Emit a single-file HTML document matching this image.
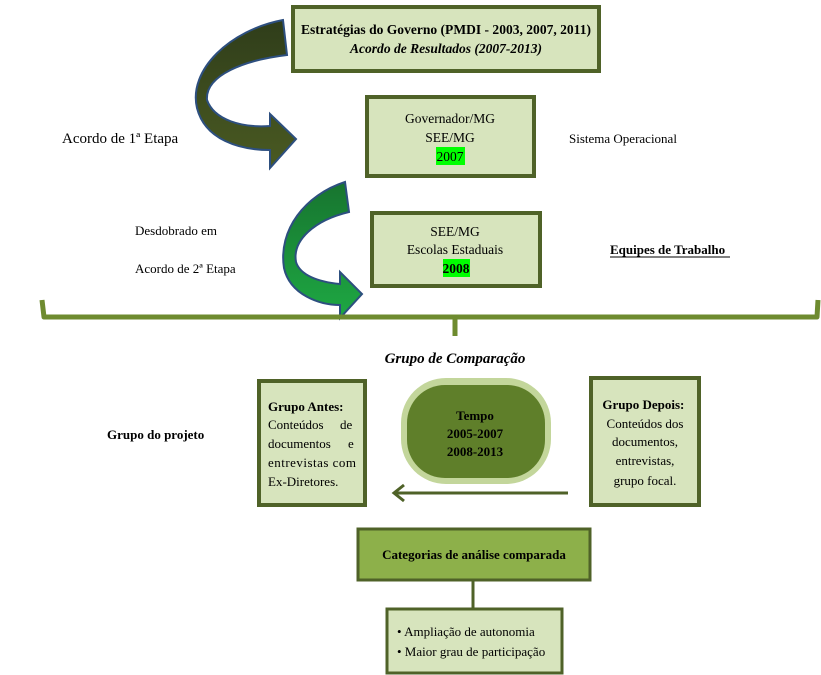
<!DOCTYPE html>
<html><head><meta charset="utf-8"><style>
html,body{margin:0;padding:0;background:#fff;}
svg{display:block;font-family:"Liberation Serif",serif;}
</style></head><body>
<svg width="821" height="675" viewBox="0 0 821 675" xmlns="http://www.w3.org/2000/svg">
<defs>
<linearGradient id="g1" x1="0" y1="0" x2="0" y2="1"><stop offset="0" stop-color="#2f3d1a"/><stop offset="1" stop-color="#4a5a22"/></linearGradient>
<linearGradient id="g2" x1="0" y1="0" x2="0" y2="1"><stop offset="0" stop-color="#17742f"/><stop offset="1" stop-color="#1ea843"/></linearGradient>
</defs>
<!-- curved arrow 1 -->
<path d="M283,20 C230,30 188,70 197,108 C205,140 240,150 270,150 L270,168 L296,139 L270,114 L270,126 C242,128 214,120 207,100 C205,75 245,60 287,55 Z" fill="url(#g1)" stroke="#2d4f7f" stroke-width="2"/>
<!-- curved arrow 2 -->
<path d="M345,182 C305,195 278,230 284,268 C290,295 320,305 340,305 L340,318 L362,294 L340,272 L340,284 C318,282 300,275 296,262 C292,240 315,220 349,212 Z" fill="url(#g2)" stroke="#2d4f7f" stroke-width="2"/>
<!-- boxes -->
<rect x="293" y="7" width="306" height="64" fill="#d7e4bd" stroke="#4f6228" stroke-width="4"/>
<text x="446" y="34" text-anchor="middle" font-size="13.5" font-weight="bold" textLength="290" lengthAdjust="spacingAndGlyphs">Estratégias do Governo (PMDI - 2003, 2007, 2011)</text>
<text x="446" y="53" text-anchor="middle" font-size="13.5" font-weight="bold" font-style="italic" textLength="192" lengthAdjust="spacingAndGlyphs">Acordo de Resultados (2007-2013)</text>
<rect x="367" y="97" width="167" height="79" fill="#d7e4bd" stroke="#4f6228" stroke-width="4"/>
<text x="450" y="123" text-anchor="middle" font-size="13.5">Governador/MG</text>
<text x="450" y="142" text-anchor="middle" font-size="13.5">SEE/MG</text>
<rect x="436" y="147" width="29" height="18" fill="#00ff00"/>
<text x="450" y="161" text-anchor="middle" font-size="13.5">2007</text>
<rect x="372" y="213" width="168" height="73" fill="#d7e4bd" stroke="#4f6228" stroke-width="4"/>
<text x="455" y="236" text-anchor="middle" font-size="13.5">SEE/MG</text>
<text x="455" y="254" text-anchor="middle" font-size="13.5">Escolas Estaduais</text>
<rect x="443" y="259" width="27" height="18" fill="#00ff00"/>
<text x="456" y="273" text-anchor="middle" font-size="13.5" font-weight="bold">2008</text>
<!-- side labels -->
<text x="62" y="143" font-size="15">Acordo de 1ª Etapa</text>
<text x="569" y="143" font-size="13">Sistema Operacional</text>
<text x="135" y="235" font-size="13">Desdobrado em</text>
<text x="135" y="273" font-size="13">Acordo de 2ª Etapa</text>
<text x="610" y="254" font-size="13" font-weight="bold">Equipes de Trabalho</text>
<line x1="610" y1="257" x2="730" y2="257" stroke="#000" stroke-width="1"/>
<!-- brace -->
<path d="M42,300 L44,317 L455,317 L455,336 M455,317 L817,317 L818,300" fill="none" stroke="#6e8b2f" stroke-width="5" stroke-linejoin="round"/>
<text x="455" y="363" text-anchor="middle" font-size="15" font-weight="bold" font-style="italic">Grupo de Comparação</text>
<text x="107" y="439" font-size="13" font-weight="bold">Grupo do projeto</text>
<!-- Grupo antes -->
<rect x="259" y="381" width="106" height="124" fill="#d7e4bd" stroke="#4f6228" stroke-width="4"/>
<text x="268" y="411" font-size="13" font-weight="bold">Grupo Antes:</text>
<text font-size="13"><tspan x="268" y="429">Conteúdos</tspan><tspan x="340" y="429">de</tspan>
<tspan x="268" y="448">documentos</tspan><tspan x="348" y="448">e</tspan>
<tspan x="268" y="467" textLength="88" lengthAdjust="spacing">entrevistas com</tspan>
<tspan x="268" y="486">Ex-Diretores.</tspan></text>
<!-- Tempo -->
<rect x="401" y="378" width="150" height="106" rx="45" fill="#c3d69b"/>
<rect x="407" y="385" width="138" height="93" rx="38" fill="#5f7f2a"/>
<text x="475" y="420" text-anchor="middle" font-size="13" font-weight="bold">Tempo</text>
<text x="475" y="438" text-anchor="middle" font-size="13" font-weight="bold">2005-2007</text>
<text x="475" y="456" text-anchor="middle" font-size="13" font-weight="bold">2008-2013</text>
<line x1="568" y1="493" x2="394" y2="493" stroke="#4f6228" stroke-width="3"/>
<path d="M404,485 L394,493 L404,501" fill="none" stroke="#4f6228" stroke-width="3"/>
<!-- Grupo depois -->
<rect x="591" y="378" width="108" height="127" fill="#d7e4bd" stroke="#4f6228" stroke-width="4"/>
<text text-anchor="middle" font-size="13"><tspan x="645" y="409" font-weight="bold">Grupo Depois:</tspan>
<tspan x="645" y="428">Conteúdos dos</tspan><tspan x="645" y="446">documentos,</tspan><tspan x="645" y="465">entrevistas,</tspan><tspan x="645" y="485">grupo focal.</tspan></text>
<!-- categorias -->
<rect x="358" y="529" width="232" height="51" fill="#8db04a" stroke="#4f6228" stroke-width="3"/>
<text x="474" y="559" text-anchor="middle" font-size="13" font-weight="bold">Categorias de análise comparada</text>
<line x1="473" y1="580" x2="473" y2="608" stroke="#4f6228" stroke-width="3"/>
<rect x="387" y="609" width="175" height="64" fill="#d7e4bd" stroke="#4f6228" stroke-width="3"/>
<text font-size="13"><tspan x="397" y="636">• Ampliação de autonomia</tspan><tspan x="397" y="656">• Maior grau de participação</tspan></text>
</svg>
</body></html>
